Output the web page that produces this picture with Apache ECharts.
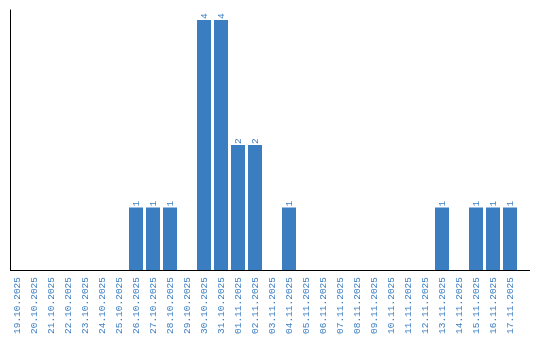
<!DOCTYPE html>
<html><head><meta charset="utf-8">
<script src="https://cdn.jsdelivr.net/npm/echarts@6/dist/echarts.min.js"></script>
<style>html,body{margin:0;padding:0;background:#fff}#c{width:540px;height:340px}</style>
</head><body><div id="c"></div>
<script>
var categories = ['19.10.2025','20.10.2025','21.10.2025','22.10.2025','23.10.2025','24.10.2025','25.10.2025','26.10.2025','27.10.2025','28.10.2025','29.10.2025','30.10.2025','31.10.2025','01.11.2025','02.11.2025','03.11.2025','04.11.2025','05.11.2025','06.11.2025','07.11.2025','08.11.2025','09.11.2025','10.11.2025','11.11.2025','12.11.2025','13.11.2025','14.11.2025','15.11.2025','16.11.2025','17.11.2025'];
var counts = [null,null,null,null,null,null,null,1,1,1,null,4,4,2,2,null,1,null,null,null,null,null,null,null,null,1,null,1,1,1];
var blue = '#3b7dc1';
var chart = echarts.init(document.getElementById('c'), null, {renderer:'canvas'});
chart.setOption({
  animation: false,
  grid: {left: 8.5, top: 10, width: 510, height: 260, containLabel: false},
  graphic: [{type:'line', shape:{x1:10, y1:270.5, x2:530, y2:270.5}, style:{stroke:'#000', lineWidth:1}, z:100}],
  xAxis: {
    type: 'category', data: categories, boundaryGap: true,
    axisLine: {show: false}, axisTick: {show: false},
    axisLabel: {rotate: 90, interval: 0, color: blue, fontFamily: 'Liberation Mono', fontSize: 9.5, margin: 7}
  },
  yAxis: {
    type: 'value', min: 0, max: 4.16, offset: -1.5,
    axisLine: {show: true, lineStyle: {color: '#000', width: 1}},
    axisTick: {show: false}, axisLabel: {show: false}, splitLine: {show: false}
  },
  series: [{
    type: 'bar', data: counts, barWidth: 14,
    itemStyle: {color: blue},
    label: {show: true, position: 'top', rotate: 90, align: 'left', verticalAlign: 'middle', distance: 1,
      color: blue, fontFamily: 'Liberation Mono', fontSize: 9.5}
  }]
});
</script></body></html>
